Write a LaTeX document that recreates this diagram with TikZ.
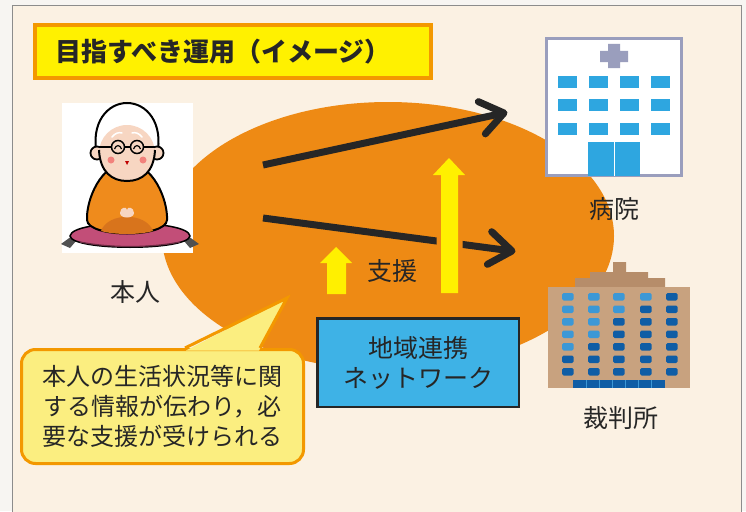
\documentclass[tikz,border=0pt]{standalone}
\usepackage{fontspec}
\newfontfamily\jp{Noto Sans CJK JP}
\usetikzlibrary{calc}

\definecolor{paper}{HTML}{F7F5F2}
\definecolor{panel}{HTML}{FBF1E3}
\definecolor{panelline}{HTML}{8C8C8C}
\definecolor{blob}{HTML}{EE8A14}
\definecolor{titleyellow}{HTML}{FFF100}
\definecolor{frameorange}{HTML}{F39800}
\definecolor{arrowyellow}{HTML}{FFF000}
\definecolor{netblue}{HTML}{3EB2E6}
\definecolor{notefill}{HTML}{FBEE80}
\definecolor{ink}{HTML}{262626}
\definecolor{hospframe}{HTML}{9A9EBD}
\definecolor{hospwin}{HTML}{2EA6E0}
\definecolor{courtwall}{HTML}{C8A27F}
\definecolor{courtroof}{HTML}{B68D6A}
\definecolor{courtlight}{HTML}{3C98D6}
\definecolor{courtdark}{HTML}{0F5DA5}
\definecolor{skin}{HTML}{F7D6C2}
\definecolor{robe}{HTML}{EF8B1C}
\definecolor{robedark}{HTML}{D8741C}
\definecolor{cushion}{HTML}{C24E78}
\definecolor{cheek}{HTML}{F2827C}

\tikzset{
  caption/.style={font=\jp\fontsize{25}{30}\selectfont, text=ink, inner sep=0pt},
  titlebox/.style={draw=frameorange, line width=4pt, fill=titleyellow,
    minimum width=396pt, minimum height=53pt, inner sep=0pt},
  titletext/.style={font=\jp\bfseries\fontsize{26}{30}\selectfont, text=ink, inner sep=0pt},
  netbox/.style={draw=ink, line width=2.5pt, fill=netblue, minimum width=201.5pt,
    minimum height=88.5pt, align=center, inner sep=0pt, text=ink,
    font=\jp\fontsize{25}{30}\selectfont},
  notebox/.style={draw=frameorange, line width=3pt, fill=notefill, rounded corners=14pt,
    minimum width=282pt, minimum height=114pt, align=center, inner sep=0pt, text=ink,
    font=\jp\fontsize{24}{30}\selectfont},
  pointer/.style={draw=ink, line width=7pt},
  barb/.style={draw=ink, line width=7pt, line cap=round, line join=round},
  liftarrow/.style={fill=arrowyellow, draw=blob, line width=9pt, line join=miter},
  outline/.style={draw=black, line width=2pt},
}

\begin{document}
\begin{tikzpicture}[x=1pt,y=-1pt]
\useasboundingbox (0,0) rectangle (746,511);

% sheet and framed panel
\fill[paper] (0,0) rectangle (746,511);
\fill[panel] (12,6) rectangle (741,530);
\draw[panelline, line width=1pt] (12,530) -- (12,6) -- (741,6) -- (741,530);

% orange field of the network
\fill[blob] (388,236) ellipse [x radius=226, y radius=134];

% heading
\node[titlebox] (titlebox) at (233,51.5) {};
\node[titletext, anchor=west] (title) at (55,51.5) {目指すべき運用（イメージ）};

% portrait of the person
\node[fill=white, minimum width=131pt, minimum height=150pt, inner sep=0pt] (selfpic) at (127.5,178) {};
% cushion with tassels
\fill[ink!80] (72,236) -- (61,244) -- (70,248) -- (76,241) -- cycle;
\fill[ink!80] (188,236) -- (199,244) -- (190,248) -- (184,241) -- cycle;
\draw[fill=cushion, line width=1.5pt] (70,236) .. controls (72,219) and (188,219) .. (190,236)
  .. controls (188,251) and (72,251) .. (70,236) -- cycle;
\draw[cushion!55!black, line width=1.2pt] (80,242) .. controls (110,248) and (150,248) .. (180,242);
% body
\draw[outline, fill=robe] (127,163) .. controls (101,163) and (86,200) .. (87,220)
  .. controls (88,238) and (166,238) .. (167,220) .. controls (168,200) and (153,163) .. (127,163) -- cycle;
\fill[robedark] (101,231) .. controls (108,212) and (146,212) .. (153,231)
  .. controls (140,235) and (114,235) .. (101,231) -- cycle;
\fill[skin] (120,213) .. controls (120,207) and (127,206) .. (127,210)
  .. controls (127,206) and (134,207) .. (134,213) .. controls (134,219) and (120,219) .. (120,213) -- cycle;
% hair
\draw[outline, fill=white] (97,156) .. controls (90,122) and (108,103) .. (127,103)
  .. controls (146,103) and (164,122) .. (157,156) -- cycle;
% ears and face
\draw[fill=skin, line width=1.8pt] (97,153) circle (6.5);
\draw[fill=skin, line width=1.8pt] (157,153) circle (6.5);
\fill[skin] (127,153) ellipse [x radius=28, y radius=28];
\draw[line width=2pt] (99,150) .. controls (100,172) and (112,181) .. (127,181)
  .. controls (142,181) and (154,172) .. (155,150);
\draw[white, line width=1.5pt, line cap=round] (112,137) .. controls (115,133) and (119,132) .. (122,133);
\draw[white, line width=1.5pt, line cap=round] (142,137) .. controls (139,133) and (135,132) .. (132,133);
% glasses and closed eyes
\draw[line width=1.5pt] (99,147) -- (111.5,147) (124.5,147) -- (130.5,147) (143.5,147) -- (155,147);
\draw[line width=1.5pt] (118,147) circle (6.5) (137,147) circle (6.5);
\draw[line width=1.2pt] (114.5,149) .. controls (116,144.5) and (120,144.5) .. (121.5,149);
\draw[line width=1.2pt] (133.5,149) .. controls (135,144.5) and (139,144.5) .. (140.5,149);
\fill[cheek] (111,160) circle (3.5) (143,160) circle (3.5);
\fill[red!75!black] (125,161) -- (129,161) -- (127,165) -- cycle;
\node[caption] (self) at (135,292) {本人};

% hospital
\node[draw=hospframe, line width=3pt, fill=white, minimum width=135pt, minimum height=137pt, inner sep=0pt]
  (hospital) at (614,107) {};
\fill[hospframe] (600,51) rectangle (628,62) (608,44) rectangle (620,68);
\foreach \cx in {558,589,620,651}
  \foreach \ry in {76,99,123}
    \fill[hospwin] (\cx,\ry) rectangle ++(19,12);
\fill[hospwin] (588,142) rectangle (640,176);
\draw[white, line width=1pt] (614,142) -- (614,176);
\node[caption] (hosplabel) at (614,209) {病院};

% court building
\fill[courtroof] (613,262) rectangle (626,273) (590,272) rectangle (648,279) (575,278) rectangle (665,288);
\fill[courtwall] (548,287) rectangle (690,388);
\foreach \r/\n in {1/4,2/3,3/2,4/2,5/1,6/0,7/0}
  \foreach \c/\wx in {1/562,2/588,3/613,4/640,5/666} {
    \ifnum\c>\n\relax\def\wincol{courtdark}\else\def\wincol{courtlight}\fi
    \fill[\wincol, rounded corners=1.5pt] (\wx,{293+(\r-1)*12.5}) rectangle ++(11.5,7.5);
  }
\fill[courtdark] (573,380) rectangle (665,388);
\foreach \k in {1,...,6}
  \draw[courtlight, line width=0.8pt] ({573+\k*92/7},380) -- ++(0,8);
\node[caption] (courtlabel) at (621,418) {裁判所};

% information flows from the person, each ending in an open chevron
\coordinate (flowA) at (263,165);
\coordinate (toHospital) at (504,113);
\coordinate (flowB) at (263,218);
\coordinate (toCourt) at (512,251);
\draw[pointer] (flowA) -- (toHospital);
\draw[barb] ($(toHospital)!28pt!36:(flowA)$) -- (toHospital) -- ($(toHospital)!28pt!-36:(flowA)$);
\draw[pointer] (flowB) -- (toCourt);
\draw[barb] ($(toCourt)!28pt!36:(flowB)$) -- (toCourt) -- ($(toCourt)!28pt!-36:(flowB)$);

% support lifting up from the network
\draw[liftarrow] (441,293) -- (441,175) -- (433,175) -- (449,158) -- (465,175) -- (458,175) -- (458,293) -- cycle;
\fill[arrowyellow] (441,293) -- (441,175) -- (433,175) -- (449,158) -- (465,175) -- (458,175) -- (458,293) -- cycle;
\fill[arrowyellow] (327,294) -- (327,263) -- (320,263) -- (336,247) -- (352,263) -- (346,263) -- (346,294) -- cycle;
\node[caption] (support) at (392,271) {支援};

% network box
\node[netbox] (net) at (418,362.5) {地域連携\\ネットワーク};

% speech bubble
\node[notebox] (note) at (162.5,406.5) {本人の生活状況等に関\\する情報が伝わり，必\\要な支援が受けられる};
\fill[notefill] (186,350.5) -- (287,298) -- (259,350.5) -- cycle;
\draw[frameorange, line width=3pt, line join=miter] (185,348) -- (287,298) -- (260,348);
\end{tikzpicture}
\end{document}
